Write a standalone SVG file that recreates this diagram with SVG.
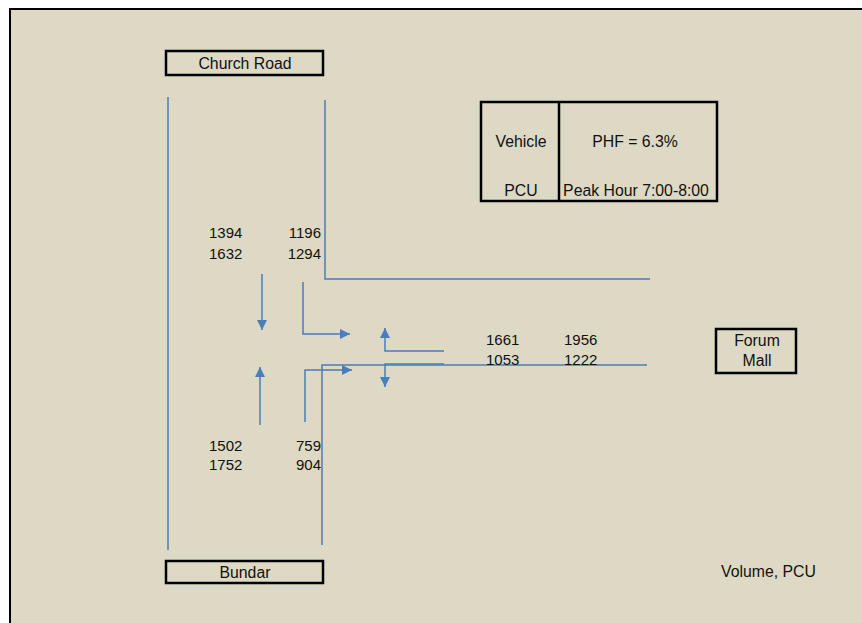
<svg xmlns="http://www.w3.org/2000/svg" width="862" height="623" viewBox="0 0 862 623">
<style>
text{font-family:"Liberation Sans",Arial,sans-serif;font-size:15.8px;fill:#111}
text.n{font-size:15px}
.box{fill:none;stroke:#000;stroke-width:2.5}
.road{fill:none;stroke:#4A7EBB;stroke-width:1.5}
.arr{fill:none;stroke:#4A7EBB;stroke-width:1.5;marker-end:url(#ah)}
.c{text-anchor:middle}
.e{text-anchor:end}
</style>
<defs>
<marker id="ah" markerUnits="userSpaceOnUse" markerWidth="12" markerHeight="12" refX="10" refY="5" orient="auto">
<path d="M0,0 L10,5 L0,10 Z" fill="#4A7EBB"/>
</marker>
</defs>
<rect x="0" y="0" width="862" height="623" fill="#fff"/>
<rect x="10" y="9" width="900" height="700" fill="#DDD9C4" stroke="#000" stroke-width="2"/>

<g id="connectors">
<path class="road" d="M168,97 V550"/>
<path class="road" d="M325,100 V279 H650"/>
<path class="road" d="M322,545 V365 H647"/>
<path class="arr" d="M262,274 V330"/>
<path class="arr" d="M303,282 V334 H350"/>
<path class="arr" d="M444,351 H385 V328"/>
<path class="arr" d="M260,425 V367"/>
<path class="arr" d="M305,422 V370 H352"/>
<path class="arr" d="M444,364 H385 V387"/>
</g>

<g id="church-road">
<rect class="box" x="166" y="51" width="157" height="24"/>
<text class="c" x="245" y="69">Church Road</text>
</g>
<g id="bundar">
<rect class="box" x="166" y="561" width="157" height="22"/>
<text class="c" x="245" y="578">Bundar</text>
</g>
<g id="forum-mall">
<rect class="box" x="716" y="329" width="80" height="44"/>
<text class="c" x="757" y="346">Forum</text>
<text class="c" x="757" y="366">Mall</text>
</g>
<g id="info-table">
<rect class="box" x="481" y="102" width="236" height="99"/>
<line x1="559" y1="102" x2="559" y2="201" stroke="#000" stroke-width="2.5"/>
<text class="c" x="521" y="147">Vehicle</text>
<text class="c" x="521" y="196">PCU</text>
<text class="c" x="635" y="147">PHF = 6.3%</text>
<text class="c" x="636" y="196">Peak Hour 7:00-8:00</text>
</g>
<g id="north-volumes">
<text class="n" x="209" y="238">1394</text>
<text class="n" x="209" y="259">1632</text>
<text class="n e" x="321" y="238">1196</text>
<text class="n e" x="321" y="259">1294</text>
</g>
<g id="south-volumes">
<text class="n" x="209" y="451">1502</text>
<text class="n" x="209" y="470">1752</text>
<text class="n e" x="321" y="451">759</text>
<text class="n e" x="321" y="470">904</text>
</g>
<g id="east-volumes">
<text class="n" x="486" y="345">1661</text>
<text class="n" x="564" y="345">1956</text>
<text class="n" x="486" y="365">1053</text>
<text class="n" x="564" y="365">1222</text>
</g>
<g id="legend">
<text x="721" y="577">Volume, PCU</text>
</g>
</svg>
